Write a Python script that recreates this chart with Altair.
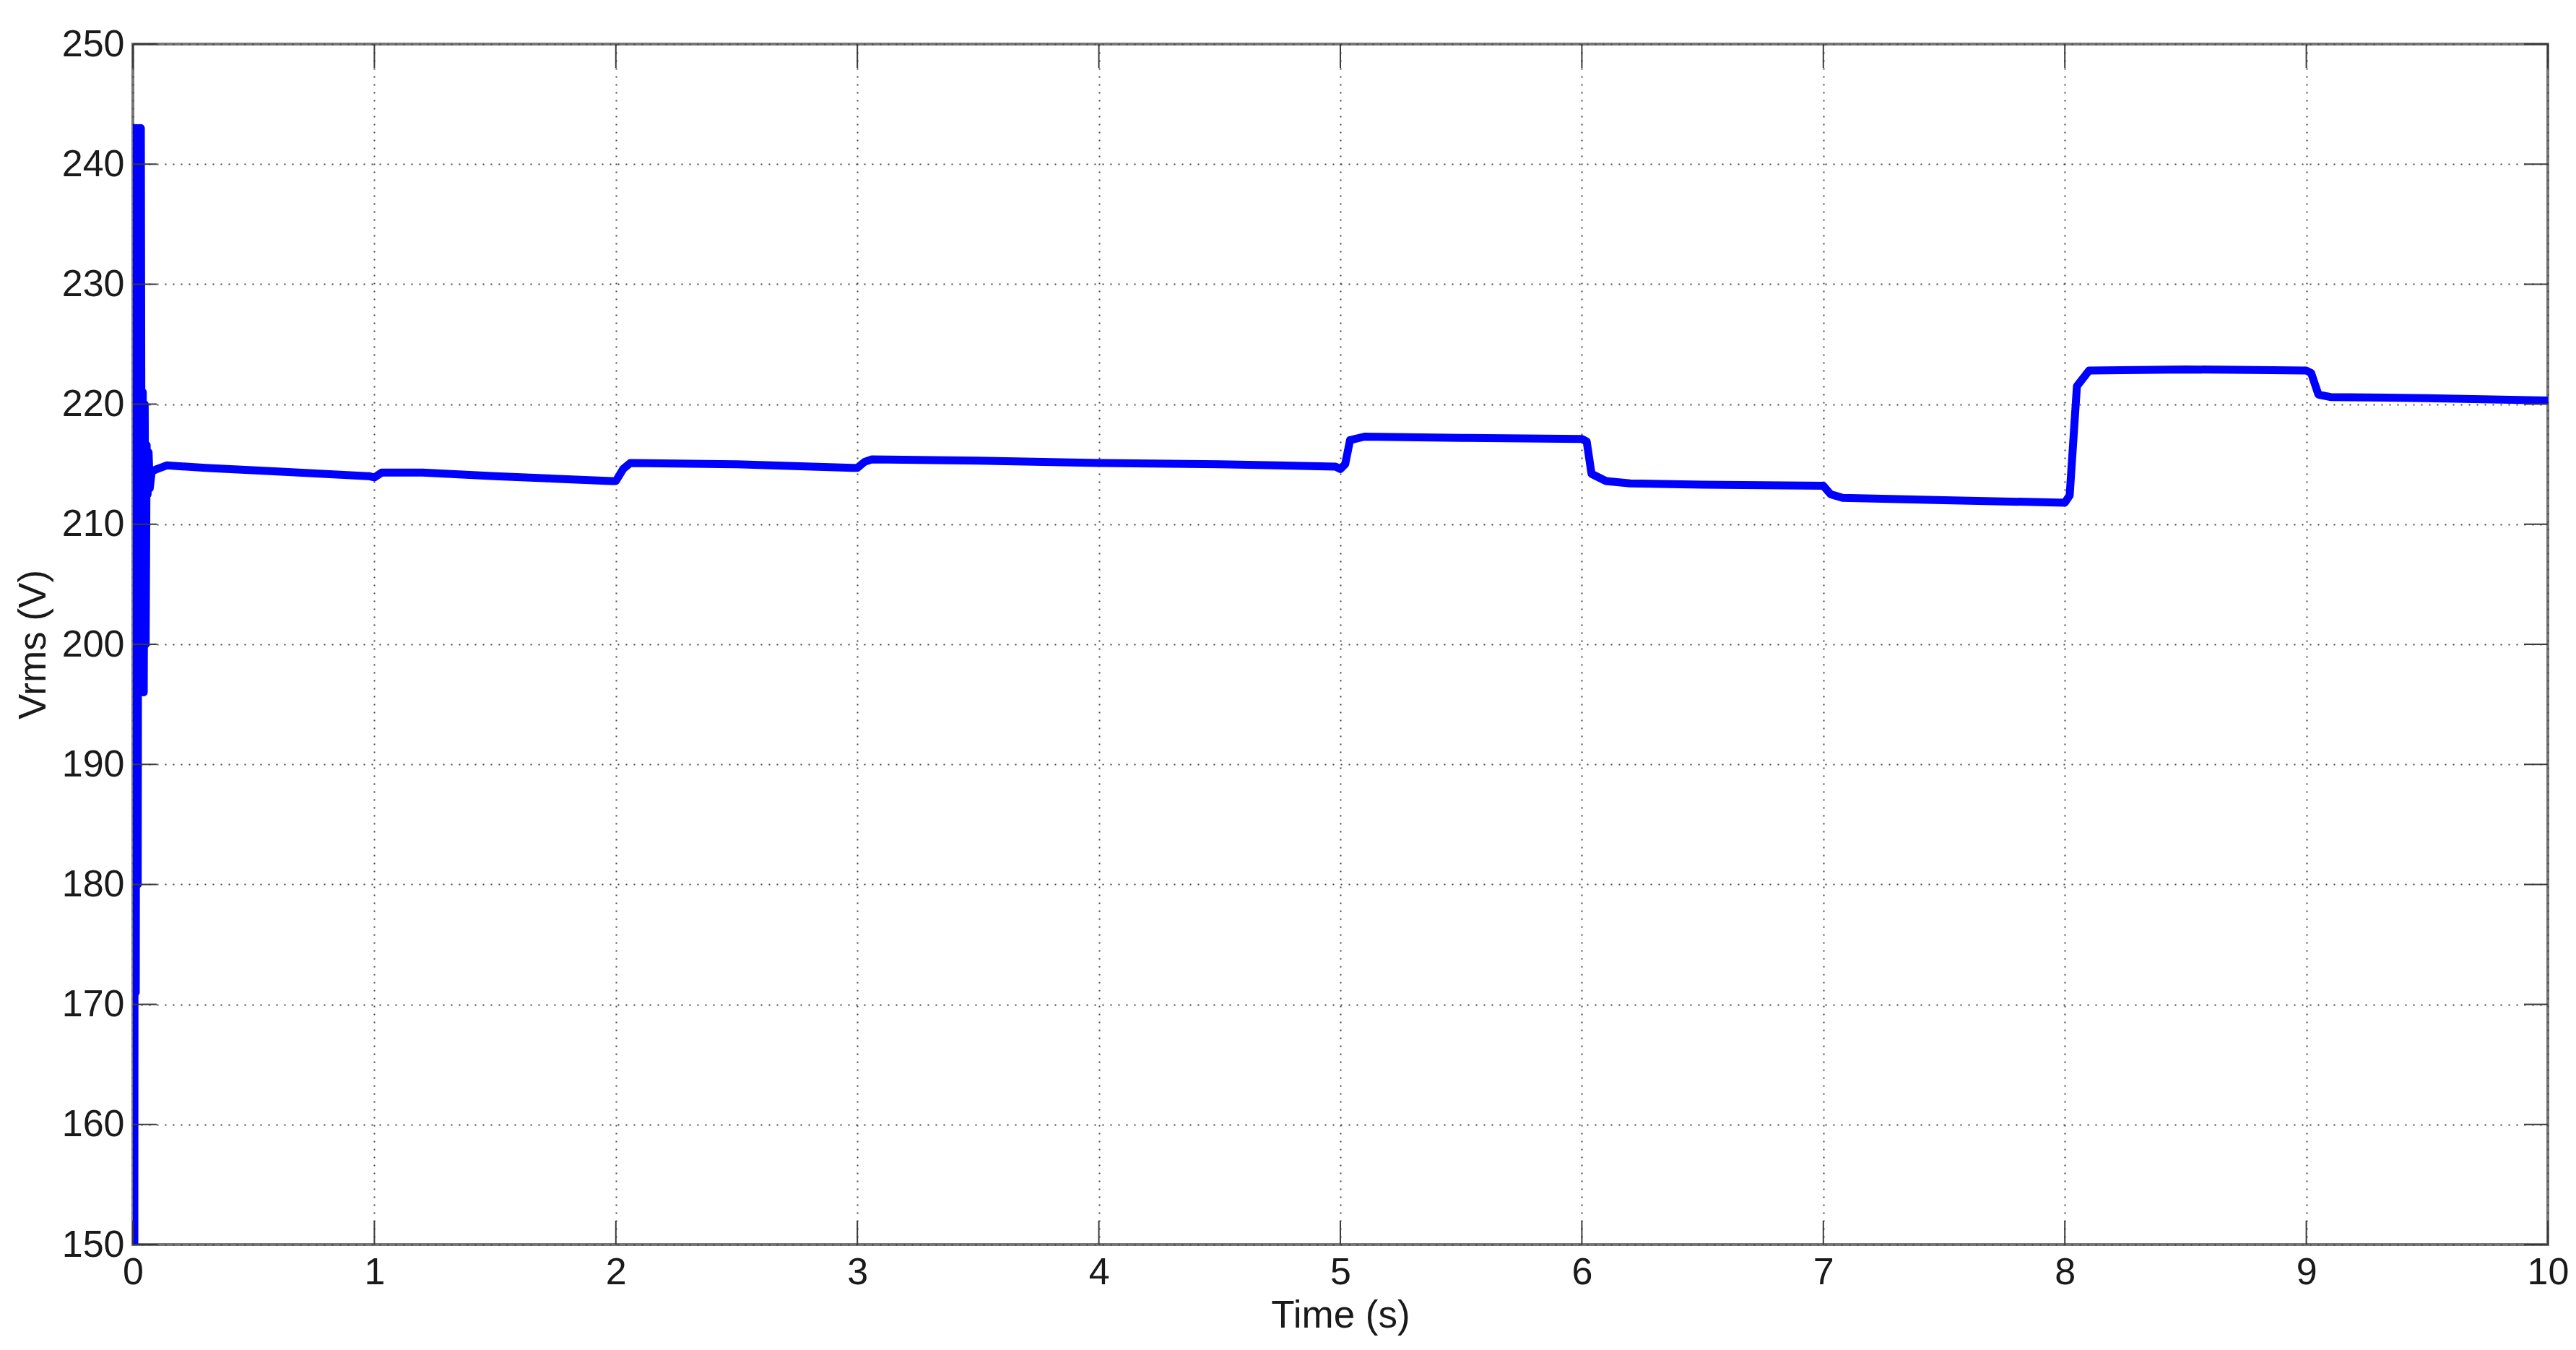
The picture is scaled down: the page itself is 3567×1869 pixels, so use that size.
import altair as alt
import pandas as pd

# ---- data ----
times = [0.000, 0.003, 0.006, 0.009, 0.012, 0.016, 0.020, 0.024, 0.028, 0.033,
         0.037, 0.041, 0.045, 0.049, 0.053, 0.057, 0.061, 0.065, 0.070, 0.078,
         0.10, 0.14, 0.30, 0.60, 0.98, 1.00, 1.03, 1.20, 1.50, 1.98,
         2.00, 2.03, 2.06, 2.50, 2.98, 3.00, 3.03, 3.06, 3.50, 4.00,
         4.50, 4.98, 5.00, 5.02, 5.04, 5.10, 5.50, 6.00, 6.02, 6.04,
         6.10, 6.20, 6.50, 7.00, 7.03, 7.08, 7.50, 8.00, 8.02, 8.05,
         8.10, 8.50, 9.00, 9.02, 9.05, 9.10, 9.50, 10.00]
volts = [150.0, 243.0, 150.0, 243.0, 171.0, 243.0, 180.0, 243.0, 196.0, 243.0,
         197.0, 221.0, 196.0, 220.0, 200.0, 216.6, 212.5, 216.0, 213.0, 214.4,
         214.6, 214.9, 214.7, 214.4, 214.0, 213.9, 214.3, 214.3, 214.0, 213.6,
         213.6, 214.6, 215.1, 215.0, 214.7, 214.7, 215.2, 215.4, 215.3, 215.1,
         215.0, 214.8, 214.6, 215.0, 217.0, 217.3, 217.2, 217.1, 216.9, 214.2,
         213.6, 213.4, 213.3, 213.2, 212.5, 212.2, 212.0, 211.8, 212.4, 221.5,
         222.8, 222.9, 222.8, 222.6, 220.8, 220.6, 220.5, 220.3]
x_ticks = list(range(0, 11))
y_ticks = list(range(150, 251, 10))

W, H = 3344, 1662
TICK = 33
FONT = "Liberation Sans"

df = pd.DataFrame({"t": times, "v": volts})
xt = pd.DataFrame({"t": x_ticks})
yt = pd.DataFrame({"v": y_ticks})

xscale = alt.Scale(domain=[0, 10], nice=False, zero=False)
yscale = alt.Scale(domain=[150, 250], nice=False, zero=False)

common_axis = dict(
    grid=True, gridDash=[2, 9], gridColor="#444444", gridWidth=2,
    ticks=False, domain=False,
    labelFont=FONT, labelFontSize=52, labelColor="#1a1a1a",
    titleFont=FONT, titleFontSize=53, titleFontWeight="normal", titleColor="#1a1a1a",
    labelOverlap=False, labelFlush=False, zindex=0, format="d",
)
x_axis = alt.Axis(values=x_ticks, title="Time (s)", labelPadding=13,
                  titleX=W / 2, titleY=114, titleBaseline="alphabetic", **common_axis)
y_axis = alt.Axis(values=y_ticks, title="Vrms (V)", labelPadding=12,
                  titleX=-122, titleY=H / 2, titleAngle=270, titleBaseline="alphabetic",
                  titleAlign="center", **common_axis)

line = alt.Chart(df).mark_line(
    color="#0000FF", strokeWidth=11, clip=True, strokeJoin="round"
).encode(
    x=alt.X("t:Q", scale=xscale, axis=x_axis, title="Time (s)"),
    y=alt.Y("v:Q", scale=yscale, axis=y_axis, title="Vrms (V)"),
)

tick_style = dict(color="#3a3a3a", strokeWidth=2)

bottom_ticks = alt.Chart(xt).mark_rule(**tick_style).encode(
    x=alt.X("t:Q", scale=xscale, axis=x_axis, title="Time (s)"),
    y=alt.value(H), y2=alt.value(H - TICK))
top_ticks = alt.Chart(xt).mark_rule(**tick_style).encode(
    x=alt.X("t:Q", scale=xscale, axis=x_axis, title="Time (s)"),
    y=alt.value(0), y2=alt.value(TICK))
left_ticks = alt.Chart(yt).mark_rule(**tick_style).encode(
    y=alt.Y("v:Q", scale=yscale, axis=y_axis, title="Vrms (V)"),
    x=alt.value(0), x2=alt.value(TICK))
right_ticks = alt.Chart(yt).mark_rule(**tick_style).encode(
    y=alt.Y("v:Q", scale=yscale, axis=y_axis, title="Vrms (V)"),
    x=alt.value(W), x2=alt.value(W - TICK))

chart = alt.layer(line, bottom_ticks, top_ticks, left_ticks, right_ticks).properties(
    width=W, height=H,
    autosize=alt.AutoSizeParams(type="none"),
    padding={"left": 176, "top": 53, "right": 31, "bottom": 130},
    background="white",
).configure_view(stroke="#777777", strokeWidth=4)

chart.save("out.html", embed_options={"renderer": "svg", "actions": False})
